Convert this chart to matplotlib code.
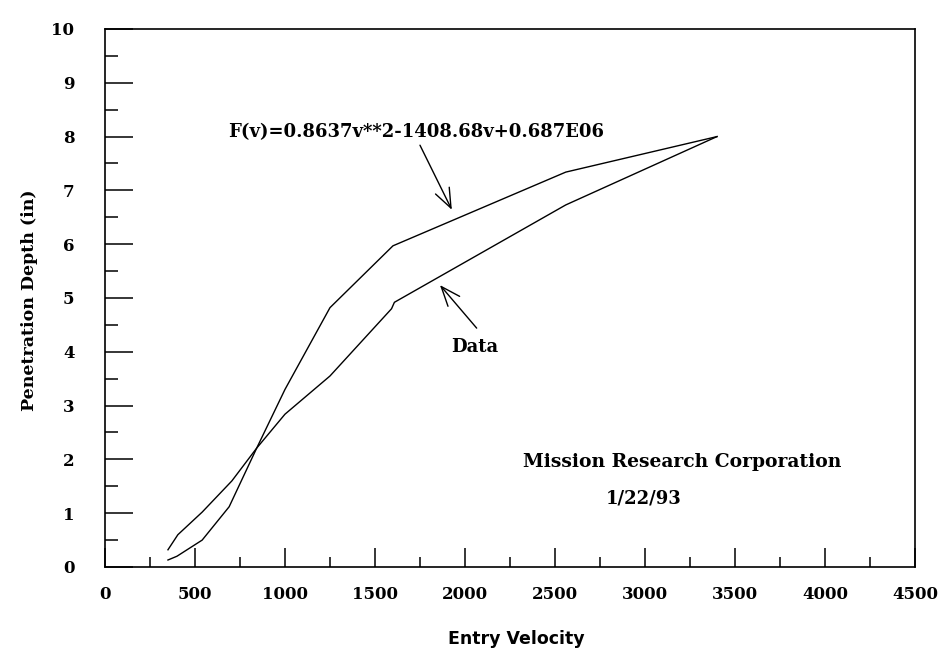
import matplotlib
matplotlib.use("Agg")
import matplotlib.pyplot as plt
from matplotlib.ticker import MultipleLocator

# fitted curve F(v)
fit_v = [350, 400, 540, 690, 843, 1000, 1250, 1600, 2560, 3400]
fit_d = [0.13, 0.2, 0.5, 1.12, 2.21, 3.3, 4.82, 5.97, 7.34, 8.0]

# measured data
data_v = [350, 405, 540, 705, 843, 1000, 1250, 1592, 1608, 2560, 3400]
data_d = [0.32, 0.6, 1.02, 1.6, 2.21, 2.84, 3.55, 4.8, 4.92, 6.73, 8.0]

fit_label = "F(v)=0.8637v**2-1408.68v+0.687E06"
x_ticks = [0, 500, 1000, 1500, 2000, 2500, 3000, 3500, 4000, 4500]
y_ticks = [0, 1, 2, 3, 4, 5, 6, 7, 8, 9, 10]

serif = "DejaVu Serif"

fig = plt.figure(figsize=(9.43, 6.5), dpi=100)
ax = fig.add_axes([0.1113, 0.1277, 0.859, 0.8277])

ax.plot(fit_v, fit_d, color="black", linewidth=1.0)
ax.plot(data_v, data_d, color="black", linewidth=1.0)

ax.set_xlim(0, 4500)
ax.set_ylim(0, 10)
ax.set_xticks(x_ticks)
ax.set_yticks(y_ticks)
ax.xaxis.set_minor_locator(MultipleLocator(250))
ax.yaxis.set_minor_locator(MultipleLocator(0.5))

ax.tick_params(axis="both", which="both", direction="in", top=False, right=False, color="black")
ax.tick_params(axis="y", which="major", length=20, width=1.1, pad=22)
ax.tick_params(axis="y", which="minor", length=9.5, width=1.1)
ax.tick_params(axis="x", which="major", length=13.5, width=1.1, pad=14)
ax.tick_params(axis="x", which="minor", length=7, width=1.1)

for lab in ax.get_yticklabels():
    lab.set_fontfamily(serif)
    lab.set_fontweight("bold")
    lab.set_fontsize(12)
for lab in ax.get_xticklabels():
    lab.set_fontfamily(serif)
    lab.set_fontweight("bold")
    lab.set_fontsize(12)

for sp in ax.spines.values():
    sp.set_linewidth(1.2)

ax.set_ylabel("Penetration Depth (in)", fontfamily=serif, fontweight="bold", fontsize=12.5)
ax.yaxis.set_label_coords(-0.083, 0.495)
ax.set_xlabel("Entry Velocity", fontfamily="DejaVu Sans", fontweight="bold", fontsize=12.5)
ax.xaxis.set_label_coords(0.508, -0.117)

ax.text(683, 8.08, fit_label, fontfamily=serif, fontweight="bold", fontsize=13,
        ha="left", va="center")
ax.text(1922, 4.09, "Data", fontfamily=serif, fontweight="bold", fontsize=13,
        ha="left", va="center")
ax.text(3204, 1.95, "Mission Research Corporation", fontfamily=serif, fontweight="bold",
        fontsize=13.5, ha="center", va="center")
ax.text(2994, 1.28, "1/22/93", fontfamily=serif, fontweight="bold", fontsize=13,
        ha="center", va="center")

arrow = dict(arrowstyle="->,head_length=1.4,head_width=0.55", color="black",
             linewidth=1.0, shrinkA=0, shrinkB=0)
ax.annotate("", xy=(1927, 6.64), xytext=(1750, 7.84), arrowprops=arrow)
ax.annotate("", xy=(1861, 5.24), xytext=(2065, 4.44), arrowprops=arrow)

fig.savefig("out.png", dpi=100)
